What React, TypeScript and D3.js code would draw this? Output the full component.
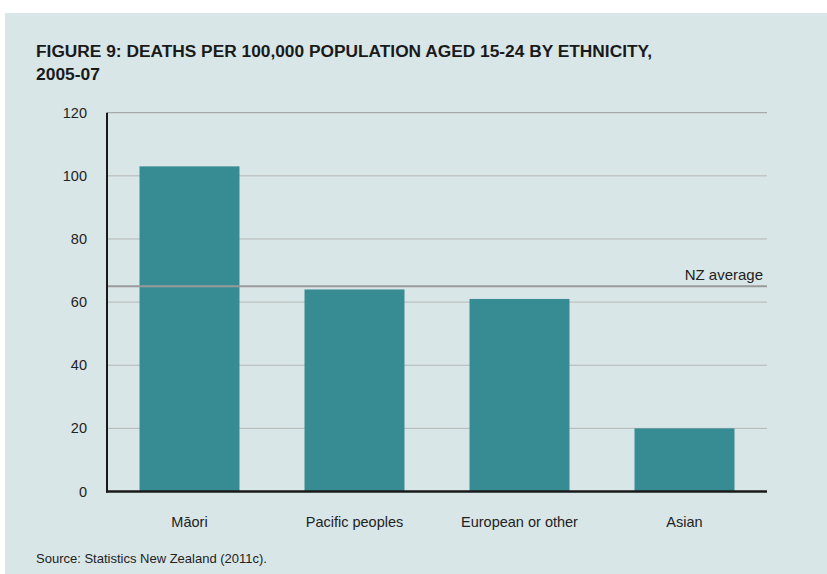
import React from "react";
import * as d3 from "d3";

const categories = ["Māori", "Pacific peoples", "European or other", "Asian"];
const values = [103, 64, 61, 20];
const yTicks = [0, 20, 40, 60, 80, 100, 120];
const nzAverage = 65;
const titleLines = ["FIGURE 9: DEATHS PER 100,000 POPULATION AGED 15-24 BY ETHNICITY,", "2005-07"];
const sourceText = "Source: Statistics New Zealand (2011c).";

export default function App() {
  const W = 827, H = 574;
  const left = 107, right = 767, top = 112.7, bottom = 491.5;
  const x = d3.scaleBand<string>().domain(categories).range([left, right]).paddingInner(0.394).paddingOuter(0.197);
  const y = d3.scaleLinear().domain([0, 120]).range([bottom, top]);
  const font = "'Liberation Sans', Arial, Helvetica, sans-serif";
  return (
    <svg width={W} height={H} style={{ position: "absolute", left: 0, top: 0 }} fontFamily={font}>
      <rect x={0} y={0} width={W} height={H} fill="#ffffff" />
      <rect x={5} y={13} width={W - 5} height={H - 13} fill="#d9e6e7" />
      <text x={36} y={56.5} fontSize={16} fontWeight="bold" fill="#1a1a1a" textLength={616} lengthAdjust="spacingAndGlyphs">{titleLines[0]}</text>
      <text x={36} y={80} fontSize={16} fontWeight="bold" fill="#1a1a1a" textLength={64} lengthAdjust="spacingAndGlyphs">{titleLines[1]}</text>
      {yTicks.filter(t => t > 0).map(t => (
        <line key={"g" + t} x1={left} x2={right} y1={y(t)} y2={y(t)} stroke={t === 120 ? "#9a9c9c" : "#b3b7b7"} strokeWidth={1} />
      ))}
      {yTicks.map(t => (
        <text key={"t" + t} x={87} y={y(t)} dy="0.35em" textAnchor="end" fontSize={14.5} fill="#222">{t}</text>
      ))}
      {categories.map((c, i) => (
        <rect key={c} x={x(c)} y={y(values[i])} width={x.bandwidth()} height={y(0) - y(values[i])} fill="#378c94" />
      ))}
      <line x1={left} x2={right} y1={y(nzAverage)} y2={y(nzAverage)} stroke="#9a9a9a" strokeWidth={2} />
      <text x={763} y={y(nzAverage) - 6} textAnchor="end" fontSize={15} fill="#222">NZ average</text>
      <line x1={left} x2={left} y1={top} y2={bottom + 1} stroke="#1a1a1a" strokeWidth={2} />
      <line x1={left - 1} x2={right} y1={bottom} y2={bottom} stroke="#1a1a1a" strokeWidth={2.5} />
      {categories.map(c => (
        <text key={"c" + c} x={(x(c) as number) + x.bandwidth() / 2} y={527} textAnchor="middle" fontSize={14.5} fill="#222">{c}</text>
      ))}
      <text x={36} y={563} fontSize={13} fill="#222">{sourceText}</text>
    </svg>
  );
}
